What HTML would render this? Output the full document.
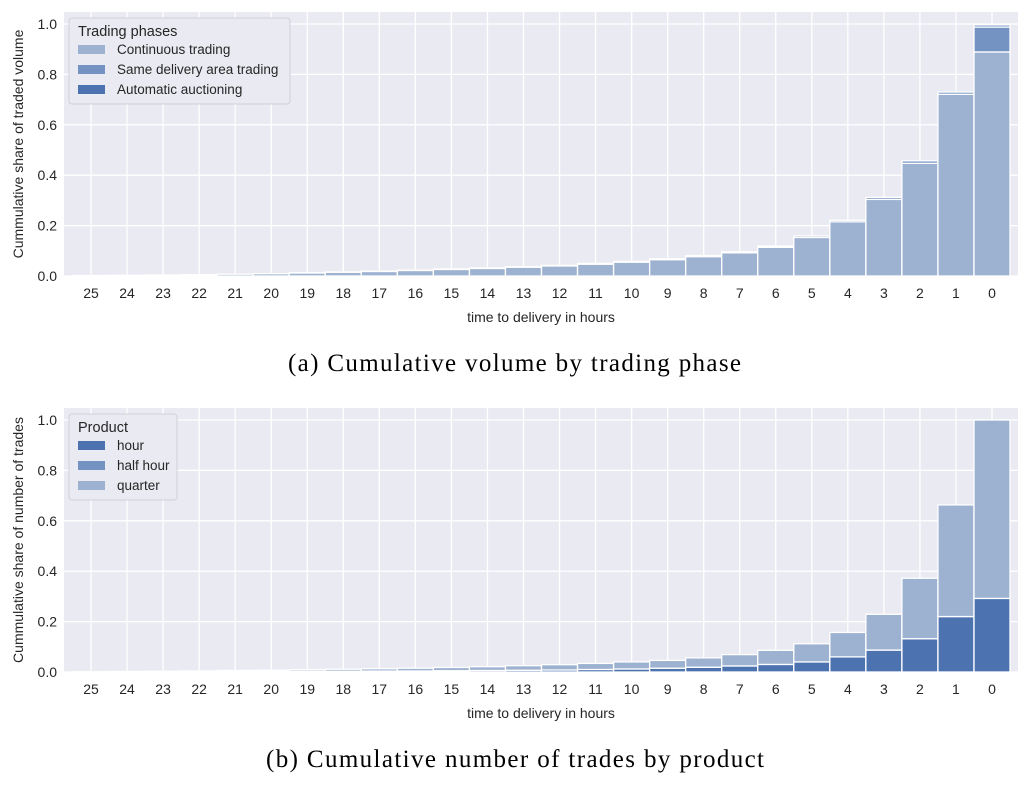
<!DOCTYPE html>
<html><head><meta charset="utf-8"><style>
body{margin:0;background:#fff;width:1023px;height:780px;overflow:hidden}
svg text{font-family:"Liberation Sans",sans-serif;fill:#262626}
.cap{font-family:"Liberation Serif",serif;font-size:25px;fill:#000}
</style></head><body>
<svg id="svg" width="1023" height="780">
<text class="cap" x="288" y="371" textLength="453" lengthAdjust="spacing">(a) Cumulative volume by trading phase</text>
<text class="cap" x="266" y="767" textLength="498" lengthAdjust="spacing">(b) Cumulative number of trades by product</text>
</svg>
<script>
const categories=["25","24","23","22","21","20","19","18","17","16","15","14","13","12","11","10","9","8","7","6","5","4","3","2","1","0"];
const continuousVals=[0.002,0.003,0.004,0.005,0.007,0.009,0.012,0.015,0.018,0.022,0.026,0.03,0.035,0.04,0.047,0.055,0.065,0.077,0.092,0.114,0.153,0.215,0.304,0.447,0.721,0.889];
const sameAreaVals=[0,0,0,0,0,0,0.001,0.001,0.001,0.001,0.002,0.002,0.002,0.002,0.003,0.003,0.003,0.004,0.004,0.005,0.006,0.006,0.008,0.01,0.009,0.099];
const auctionVals=[0,0,0,0,0,0,0,0,0,0,0,0,0,0,0,0,0,0,0,0,0,0,0,0,0,0.008];
const hourVals=[0,0,0.001,0.001,0.0015,0.002,0.0025,0.003,0.0035,0.004,0.005,0.006,0.007,0.008,0.01,0.012,0.015,0.019,0.024,0.03,0.04,0.06,0.087,0.132,0.22,0.292];
const halfHourVals=[0,0,0,0,0,0,0,0,0,0,0,0,0,0,0,0,0,0,0,0,0,0,0,0,0,0];
const quarterVals=[0.001,0.002,0.002,0.003,0.0045,0.005,0.0065,0.008,0.0095,0.011,0.013,0.015,0.018,0.021,0.024,0.028,0.031,0.037,0.045,0.056,0.072,0.097,0.142,0.24,0.443,0.708];
const yTicks=[0,0.2,0.4,0.6,0.8,1.0];
const NS="http://www.w3.org/2000/svg";
const svg=document.getElementById('svg');
function mk(t,a,p){const e=document.createElementNS(NS,t);for(const k in a)e.setAttribute(k,a[k]);(p||svg).appendChild(e);return e;}
function chart(top,name,ylabel,series,legendTitle,legendItems,legendW){
  const L=64,R=1018,T=top,B=top+264,y0=B,scale=252;
  const xs=i=>91+i*36.04, ys=v=>y0-v*scale;
  const g=mk('g',{});
  
  
  const bg=mk('rect',{x:L,y:T,width:R-L,height:B-T,fill:'#eaeaf2'},g);
  
  yTicks.forEach(v=>{
    mk('line',{x1:L,x2:R,y1:ys(v),y2:ys(v),stroke:'#fff','stroke-width':1.3},g);
    const t=mk('text',{x:L-7,y:ys(v)+5,'text-anchor':'end','font-size':14},g);t.textContent=v.toFixed(1);
    
  });
  categories.forEach((c,i)=>{
    mk('line',{x1:xs(i),x2:xs(i),y1:T,y2:B,stroke:'#fff','stroke-width':1.3},g);
    const t=mk('text',{x:xs(i),y:B+22,'text-anchor':'middle','font-size':14},g);t.textContent=c;
    
  });
  categories.forEach((c,i)=>{
    let base=0;
    series.forEach(s=>{
      const v=s.vals[i]; if(v<=0)return;
      const r=mk('rect',{x:xs(i)-18,y:ys(base+v),width:36,height:v*scale,fill:s.color,stroke:'#fff','stroke-width':1.3},g);
      
      
      base+=v;
    });
  });
  const xl=mk('text',{x:541,y:B+46,'text-anchor':'middle','font-size':14},g);xl.textContent='time to delivery in hours';
  
  const yl=mk('text',{x:0,y:0,'text-anchor':'middle','font-size':14,transform:`translate(23,${(T+B)/2}) rotate(-90)`},g);yl.textContent=ylabel;
  
  const lg=mk('g',{},g);
  
  mk('rect',{x:69,y:T+6,width:legendW,height:26+legendItems.length*20,rx:3,fill:'#eaeaf2',stroke:'#d0d0d8','stroke-width':1},lg);
  const lt=mk('text',{x:78,y:T+24,'font-size':14.5},lg);lt.textContent=legendTitle;
  
  legendItems.forEach((it,k)=>{
    const yy=T+33+k*20;
    mk('rect',{x:78,y:yy,width:27,height:9,fill:it.color},lg);
    const t=mk('text',{x:117,y:yy+9,'font-size':13.5},lg);t.textContent=it.label;
    
  });
}
const C1='#9db1d1',C2='#7593c2',C3='#4c72b0';
chart(12,'volume-chart','Cummulative share of traded volume',
 [{key:'continuous',vals:continuousVals,color:C1},{key:'same-area',vals:sameAreaVals,color:C2},{key:'auction',vals:auctionVals,color:C3}],
 'Trading phases',[{label:'Continuous trading',color:C1},{label:'Same delivery area trading',color:C2},{label:'Automatic auctioning',color:C3}],221);
chart(408,'trades-chart','Cummulative share of number of trades',
 [{key:'hour',vals:hourVals,color:C3},{key:'half-hour',vals:halfHourVals,color:C2},{key:'quarter',vals:quarterVals,color:C1}],
 'Product',[{label:'hour',color:C3},{label:'half hour',color:C2},{label:'quarter',color:C1}],108);
</script>
</body></html>
